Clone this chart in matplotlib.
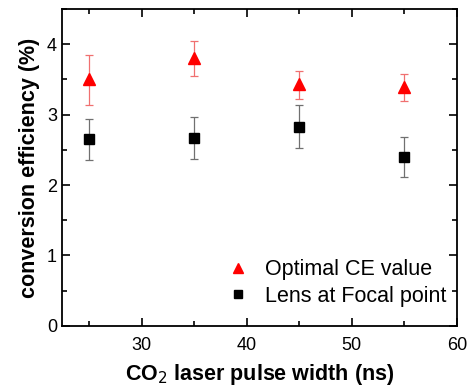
import matplotlib
matplotlib.use("Agg")
import matplotlib.pyplot as plt
from matplotlib.lines import Line2D
from matplotlib.ticker import MultipleLocator

plt.rcParams['font.family'] = ['Liberation Sans', 'DejaVu Sans']

# pulse width (ns)
pulse_width = [25, 35, 45, 55]
# optimal CE value (%)
ce_opt = [3.50, 3.81, 3.43, 3.39]
ce_opt_lo = [3.14, 3.55, 3.22, 3.19]
ce_opt_hi = [3.85, 4.05, 3.62, 3.58]
# lens at focal point (%)
ce_focal = [2.65, 2.67, 2.82, 2.40]
ce_focal_lo = [2.35, 2.37, 2.53, 2.11]
ce_focal_hi = [2.94, 2.97, 3.13, 2.68]

fig = plt.figure(figsize=(4.69, 3.88), dpi=100)
ax = fig.add_axes([0.132, 0.160, 0.842, 0.817])

err_opt = [[v - lo for v, lo in zip(ce_opt, ce_opt_lo)],
           [hi - v for v, hi in zip(ce_opt, ce_opt_hi)]]
err_focal = [[v - lo for v, lo in zip(ce_focal, ce_focal_lo)],
             [hi - v for v, hi in zip(ce_focal, ce_focal_hi)]]

ax.errorbar(pulse_width, ce_opt, yerr=err_opt, fmt='^', color='red', ms=8,
            ecolor='#f07070', elinewidth=0.9, capsize=3, capthick=0.9)
ax.errorbar(pulse_width, ce_focal, yerr=err_focal, fmt='s', color='black', ms=7,
            ecolor='#707070', elinewidth=0.9, capsize=3, capthick=0.9)

ax.set_xlim(22.4, 60)
ax.set_ylim(0, 4.5)
ax.xaxis.set_major_locator(MultipleLocator(10))
ax.xaxis.set_minor_locator(MultipleLocator(5))
ax.yaxis.set_major_locator(MultipleLocator(1))
ax.yaxis.set_minor_locator(MultipleLocator(0.5))
ax.tick_params(which='both', direction='in', top=True, right=True, labelsize=13, width=1.2)
ax.tick_params(which='major', length=6)
ax.tick_params(which='minor', length=3.5)
ax.tick_params(axis='x', pad=8)
for s in ax.spines.values():
    s.set_linewidth(1.3)

ax.set_xlabel('CO$_2$ laser pulse width (ns)', fontsize=15.5, fontweight='bold', labelpad=6)
ax.set_ylabel('conversion efficiency (%)', fontsize=15.5, fontweight='bold', labelpad=5)

# legend with markers only (no error bars)
handles = [Line2D([], [], ls='none', marker='^', color='red', ms=7),
           Line2D([], [], ls='none', marker='s', color='black', ms=6)]
ax.legend(handles, ['Optimal CE value', 'Lens at Focal point'],
          loc='lower right', bbox_to_anchor=(1.022, 0.0), frameon=False,
          fontsize=15.5, handletextpad=0.5, labelspacing=0.25, handlelength=1.5)

fig.savefig('out.png', dpi=100)
